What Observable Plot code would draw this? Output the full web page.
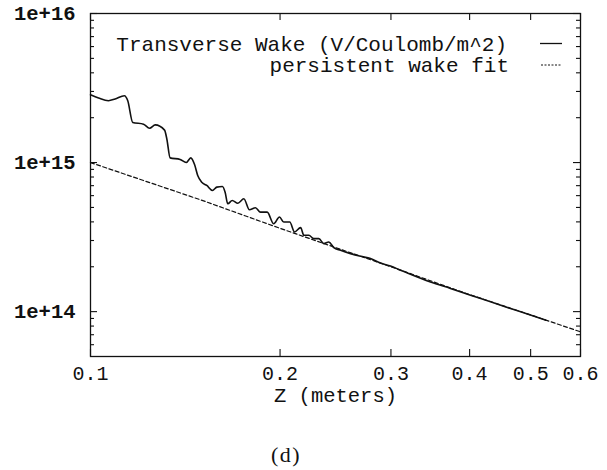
<!DOCTYPE html>
<html><head><meta charset="utf-8">
<script src="https://cdn.jsdelivr.net/npm/d3@7"></script>
<script src="https://cdn.jsdelivr.net/npm/@observablehq/plot@0.6"></script>
<style>
html,body{margin:0;padding:0;background:#fff;}
#wrap{width:607px;height:470px;position:relative;overflow:hidden;background:#fff;}
#cap{position:absolute;left:271px;top:441px;font-family:"Liberation Serif","Times New Roman",serif;font-size:22px;line-height:28px;letter-spacing:1.5px;color:#111;}
</style>
</head><body>
<div id="wrap"></div>
<script>
// Transverse wake (V/Coulomb/m^2)
const zWake = [0.100,0.1030,0.1068,0.1094,0.1132,0.1146,0.1167,0.1214,0.1241,0.1267,0.1311,0.1322,0.1338,0.1388,0.1419,0.1443,0.1463,0.1480,0.1502,0.1530,0.1562,0.1587,0.1620,0.1636,0.1652,0.1679,0.1714,0.1752,0.1788,0.1828,0.1862,0.1908,0.1954,0.1996,0.2027,0.2072,0.2109,0.2156,0.2182,0.2222,0.2263,0.2305,0.2347,0.2390,0.2434,0.2495,0.2588,0.2685,0.2784,0.2888,0.2995,0.3087,0.3222,0.3467,0.3729,0.4013,0.4318,0.4645,0.4997,0.5280];
const wake = [2.85e15,2.71e15,2.60e15,2.67e15,2.81e15,2.60e15,1.86e15,1.81e15,1.70e15,1.79e15,1.65e15,1.44e15,1.075e15,1.05e15,1.00e15,1.075e15,9.7e14,8.19e14,7.38e14,7.02e14,6.50e14,6.84e14,6.91e14,6.33e14,5.29e14,5.57e14,5.34e14,5.72e14,4.83e14,4.98e14,4.65e14,4.65e14,3.89e14,4.31e14,3.99e14,3.99e14,3.42e14,3.66e14,3.25e14,3.25e14,3.09e14,3.09e14,2.86e14,2.93e14,2.69e14,2.58e14,2.45e14,2.35e14,2.27e14,2.12e14,2.02e14,1.92e14,1.78e14,1.58e14,1.43e14,1.29e14,1.163e14,1.05e14,9.48e13,8.77e13];
// persistent wake fit
const zFit = [0.1,0.15,0.2,0.3,0.4,0.5,0.6];
const fit = [1.0e15,5.6e14,3.62e14,2.0e14,1.30e14,9.5e13,7.32e13];
// ticks
const xTicks = [0.1,0.2,0.3,0.4,0.5,0.6];
const xTickLabels = ["0.1","0.2","0.3","0.4","0.5","0.6"];
const yTicks = [1e14,1e15,1e16];
const yTickLabels = ["1e+14","1e+15","1e+16"];
const yMinor = [6e13,7e13,8e13,9e13,2e14,3e14,4e14,5e14,6e14,7e14,8e14,9e14,2e15,3e15,4e15,5e15,6e15,7e15,8e15,9e15];
const seriesNames = ["Transverse Wake (V/Coulomb/m^2)","persistent wake fit"];
const xLabel = "Z (meters)";

const W = 607, H = 430, mL = 90, mR = 27, mT = 13, mB = 74;
const fh = H - mT - mB, fw = W - mL - mR;
const ink = "#111";

const wakeData = zWake.map((z,i)=>({z, w: wake[i]}));
const fitData = zFit.map((z,i)=>({z, w: fit[i]}));
const xLab = d => xTickLabels[xTicks.indexOf(d)];
const yLab = d => yTickLabels[yTicks.indexOf(d)];

const plot = Plot.plot({
  width: W, height: H,
  marginLeft: mL, marginRight: mR, marginTop: mT, marginBottom: mB,
  style: {fontFamily: "'Liberation Mono','Courier New',monospace", fontSize: "20px", color: ink, background: "#fff"},
  x: {type: "log", domain: [0.1, 0.6], axis: null},
  y: {type: "log", domain: [5e13, 1e16], axis: null},
  marks: [
    Plot.frame({stroke: ink, strokeWidth: 1.3}),
    // inward ticks bottom/top
    Plot.tickX(xTicks, {x: d=>d, stroke: ink, strokeWidth: 1.1, insetTop: fh - 7}),
    Plot.tickX(xTicks, {x: d=>d, stroke: ink, strokeWidth: 1.1, insetBottom: fh - 7}),
    // inward ticks left/right
    Plot.tickY(yTicks, {y: d=>d, stroke: ink, strokeWidth: 1.1, insetRight: fw - 7}),
    Plot.tickY(yTicks, {y: d=>d, stroke: ink, strokeWidth: 1.1, insetLeft: fw - 7}),
    Plot.tickY(yMinor, {y: d=>d, stroke: ink, strokeWidth: 1.1, insetRight: fw - 4}),
    Plot.tickY(yMinor, {y: d=>d, stroke: ink, strokeWidth: 1.1, insetLeft: fw - 4}),
    // tick labels
    Plot.text(xTicks, {x: d=>d, text: xLab, frameAnchor: "bottom", dy: 23, fill: ink, fontSize: 20}),
    Plot.text(yTicks, {y: d=>d, text: yLab, frameAnchor: "left", textAnchor: "end", dx: -15, fill: ink, fontSize: 20.5, fontWeight: "bold"}),
    Plot.text([xLabel], {frameAnchor: "bottom", dy: 45, fill: ink, fontSize: 20.5}),
    Plot.line(fitData, {x: "z", y: "w", stroke: ink, strokeWidth: 1.2, strokeDasharray: "4,2.5"}),
    Plot.line(wakeData, {x: "z", y: "w", stroke: ink, strokeWidth: 1.6, curve: "monotone-x"})
  ]
});

// legend inside the frame, gnuplot style
const g = d3.select(plot).append("g").attr("font-family", "'Liberation Mono','Courier New',monospace").attr("font-size", 21).attr("fill", ink);
g.append("text").attr("x", 507).attr("y", 51).attr("text-anchor", "end").text(seriesNames[0]);
g.append("text").attr("x", 509).attr("y", 72).attr("text-anchor", "end").text(seriesNames[1]);
g.append("line").attr("x1", 540).attr("x2", 562).attr("y1", 43.5).attr("y2", 43.5).attr("stroke", ink).attr("stroke-width", 1.3);
g.append("line").attr("x1", 541).attr("x2", 562).attr("y1", 65).attr("y2", 65).attr("stroke", ink).attr("stroke-width", 1).attr("stroke-dasharray", "2,1.5");

const wrap = document.getElementById("wrap");
wrap.appendChild(plot);
const cap = document.createElement("div");
cap.id = "cap";
cap.textContent = "(d)";
wrap.appendChild(cap);
</script>
</body></html>
